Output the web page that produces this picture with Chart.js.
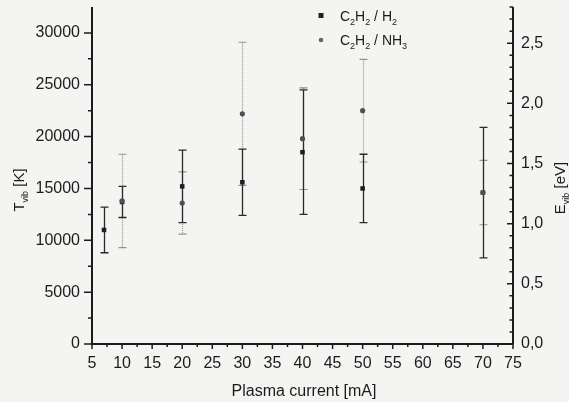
<!DOCTYPE html>
<html>
<head>
<meta charset="utf-8">
<script src="https://cdn.jsdelivr.net/npm/chart.js@4.4.1/dist/chart.umd.min.js"></script>
<style>
  html, body { margin: 0; padding: 0; background: #f4f4f2; }
  #wrap { width: 569px; height: 402px; }
</style>
</head>
<body>
<div id="wrap"><canvas id="c" width="569" height="402"></canvas></div>
<script>
// C2H2 / H2
const current1 = [7, 10, 20, 30, 40, 50, 70]
const tvib1 = [11000, 13700, 15200, 15600, 18500, 15000, 14600]
const err1 = [2200, 1500, 3500, 3200, 6000, 3300, 6300]

// C2H2 / NH3
const current2 = [10, 20, 30, 40, 50, 70]
const tvib2 = [13800, 13600, 22200, 19800, 22500, 14600]
const err2 = [4500, 3000, 6900, 4900, 4950, 3100]

const xTicks = [5, 10, 15, 20, 25, 30, 35, 40, 45, 50, 55, 60, 65, 70, 75]
const tTicks = [0, 5000, 10000, 15000, 20000, 25000, 30000]
const eTicks = [0, 0.5, 1.0, 1.5, 2.0, 2.5]
const K_PER_EV = 11604
const T_MAX = 32500

const FONT = 'Liberation Sans, Arial, sans-serif'
const INK = '#1b1b1b'

const toPts = (xs, ys) => xs.map((x, i) => ({ x, y: ys[i] }))
const noPad = s => { s.paddingTop = 0; s.paddingBottom = 0; s.paddingLeft = 0; s.paddingRight = 0 }

// error bars, drawn through the chart's own scales
const errorBars = {
  id: 'errorBars',
  beforeDatasetsDraw (chart) {
    const { ctx, scales: { x, y } } = chart
    const draw = (xs, ys, es, color, dash, width) => {
      ctx.save()
      ctx.strokeStyle = color
      ctx.lineWidth = width
      xs.forEach((v, i) => {
        const px = Math.round(x.getPixelForValue(v)) + 0.5
        const top = y.getPixelForValue(ys[i] + es[i])
        const bot = y.getPixelForValue(ys[i] - es[i])
        ctx.setLineDash(dash)
        ctx.beginPath()
        ctx.moveTo(px, top)
        ctx.lineTo(px, bot)
        ctx.stroke()
        ctx.setLineDash([])
        ctx.beginPath()
        ctx.moveTo(px - 4, top)
        ctx.lineTo(px + 4, top)
        ctx.moveTo(px - 4, bot)
        ctx.lineTo(px + 4, bot)
        ctx.stroke()
      })
      ctx.restore()
    }
    draw(current2, tvib2, err2, '#929292', [1, 1], 1.2)
    draw(current1, tvib1, err1, '#2a2a2a', [], 1.3)
  }
}

// axis lines, major/minor ticks, titles with subscripts, legend
const frame = {
  id: 'frame',
  beforeDraw (chart) {
    const { ctx, width, height } = chart
    ctx.save()
    ctx.fillStyle = '#f4f4f2'
    ctx.fillRect(0, 0, width, height)
    ctx.restore()
  },
  afterDraw (chart) {
    const { ctx, chartArea: a, scales: { x, y, y2 } } = chart
    ctx.save()
    ctx.strokeStyle = INK
    ctx.lineWidth = 2
    ctx.beginPath()
    ctx.moveTo(a.left, a.top)
    ctx.lineTo(a.left, a.bottom)
    ctx.lineTo(a.right, a.bottom)
    ctx.moveTo(a.right, a.top)
    ctx.lineTo(a.right, a.bottom)
    ctx.stroke()

    ctx.lineWidth = 1.5
    ctx.beginPath()
    for (let v = 0; v <= 30000; v += 2500) {
      const py = y.getPixelForValue(v)
      const len = v % 5000 === 0 ? 8 : 4
      ctx.moveTo(a.left - len, py)
      ctx.lineTo(a.left, py)
    }
    for (let k = 0; k <= 28; k++) {
      const py = y2.getPixelForValue(k / 10)
      const len = k % 5 === 0 ? 6 : 3.5
      ctx.moveTo(a.right - len, py)
      ctx.lineTo(a.right, py)
    }
    for (let v = 5; v <= 75; v += 2.5) {
      const px = x.getPixelForValue(v)
      const len = v % 5 === 0 ? 5 : 3
      ctx.moveTo(px, a.bottom)
      ctx.lineTo(px, a.bottom + len)
    }
    ctx.stroke()

    // text with subscripts, written left to right from (x0, base)
    const subText = (parts, x0, base, size) => {
      let cx = x0
      parts.forEach(([t, sub]) => {
        ctx.font = (sub ? Math.round(size * 0.62) : size) + 'px ' + FONT
        ctx.fillText(t, cx, sub ? base + size * 0.28 : base)
        cx += ctx.measureText(t).width
      })
    }
    const measure = (parts, size) => parts.reduce((w, [t, sub]) => {
      ctx.font = (sub ? Math.round(size * 0.62) : size) + 'px ' + FONT
      return w + ctx.measureText(t).width
    }, 0)

    ctx.fillStyle = INK
    ctx.textBaseline = 'alphabetic'

    // x title
    ctx.font = '16px ' + FONT
    ctx.textAlign = 'center'
    ctx.fillText('Plasma current [mA]', 304, 396)
    ctx.textAlign = 'left'

    // left title
    const lt = [['T', false], ['vib', true], [' [K]', false]]
    const lw = measure(lt, 15)
    ctx.save()
    ctx.translate(24, 190)
    ctx.rotate(-Math.PI / 2)
    subText(lt, -lw / 2, 0, 15)
    ctx.restore()

    // right title
    const rt = [['E', false], ['vib', true], [' [eV]', false]]
    const rw = measure(rt, 15)
    ctx.save()
    ctx.translate(565, 188)
    ctx.rotate(-Math.PI / 2)
    subText(rt, -rw / 2, 0, 15)
    ctx.restore()

    // legend
    ctx.fillStyle = '#222'
    ctx.fillRect(318.5, 13, 5, 5)
    ctx.fillStyle = '#666'
    ctx.beginPath()
    ctx.arc(321, 40, 2.3, 0, Math.PI * 2)
    ctx.fill()
    ctx.fillStyle = INK
    subText([['C', false], ['2', true], ['H', false], ['2', true], [' / H', false], ['2', true]], 340, 21, 14)
    subText([['C', false], ['2', true], ['H', false], ['2', true], [' / NH', false], ['3', true]], 340, 45, 14)
    ctx.restore()
  }
}

const tickFont = { family: FONT, size: 15 }

const chart = new Chart(document.getElementById('c'), {
  type: 'scatter',
  data: {
    datasets: [
      {
        label: 'C2H2 / NH3',
        data: toPts(current2, tvib2),
        pointStyle: 'circle',
        pointRadius: 2.6,
        backgroundColor: '#505050',
        borderColor: '#505050',
        borderWidth: 0,
        yAxisID: 'y'
      },
      {
        label: 'C2H2 / H2',
        data: toPts(current1, tvib1),
        pointStyle: 'rect',
        pointRadius: 3.2,
        backgroundColor: '#1e1e1e',
        borderColor: '#1e1e1e',
        borderWidth: 0,
        yAxisID: 'y'
      }
    ]
  },
  options: {
    responsive: false,
    animation: false,
    events: [],
    layout: { padding: { top: 7, left: 0, right: 0, bottom: 0 } },
    plugins: { legend: { display: false }, tooltip: { enabled: false } },
    scales: {
      x: {
        type: 'linear',
        position: 'bottom',
        min: 5,
        max: 75,
        afterBuildTicks: s => { s.ticks = xTicks.map(v => ({ value: v })) },
        afterFit: s => { s.height = 58; noPad(s) },
        grid: { display: false, drawTicks: false },
        border: { display: false },
        ticks: { autoSkip: false, maxRotation: 0, padding: 10, color: INK, font: { family: FONT, size: 16 } }
      },
      y: {
        type: 'linear',
        position: 'left',
        min: 0,
        max: T_MAX,
        afterBuildTicks: s => { s.ticks = tTicks.map(v => ({ value: v })) },
        afterFit: s => { s.width = 92; noPad(s) },
        grid: { display: false, drawTicks: false },
        border: { display: false },
        ticks: { autoSkip: false, padding: 12, color: INK, font: { family: FONT, size: 16 }, callback: v => String(v) }
      },
      y2: {
        type: 'linear',
        position: 'right',
        min: 0,
        max: T_MAX / K_PER_EV,
        afterBuildTicks: s => { s.ticks = eTicks.map(v => ({ value: v })) },
        afterFit: s => { s.width = 56; noPad(s) },
        grid: { display: false, drawTicks: false },
        border: { display: false },
        ticks: {
          autoSkip: false,
          padding: 8,
          color: INK,
          font: { family: FONT, size: 16 },
          callback: v => v.toFixed(1).replace('.', ',')
        }
      }
    }
  },
  plugins: [errorBars, frame]
})
</script>
</body>
</html>
